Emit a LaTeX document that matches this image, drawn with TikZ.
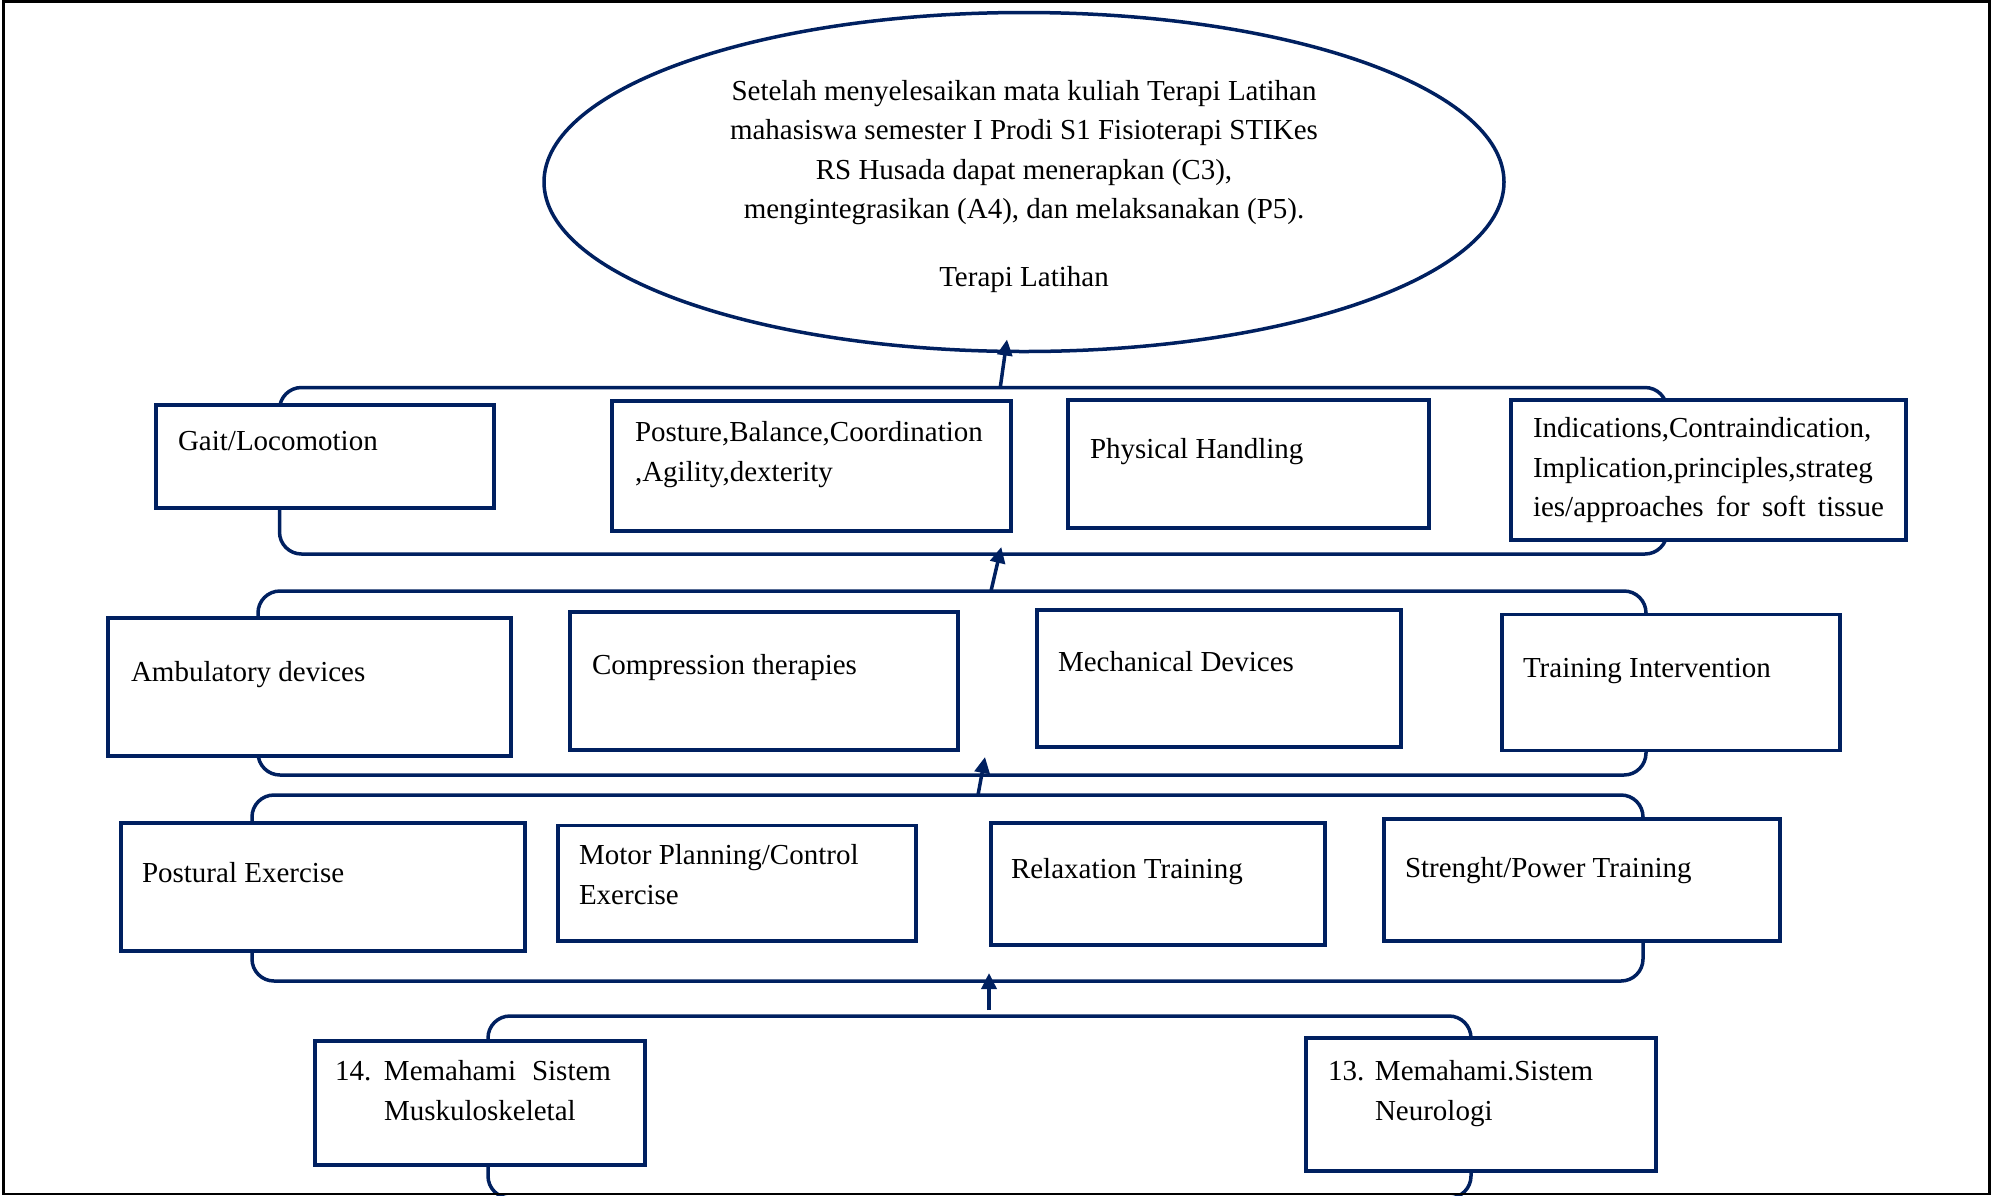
\documentclass[tikz,border=0pt]{standalone}
\usepackage{fontspec}
\setmainfont{Liberation Serif}
\usetikzlibrary{arrows.meta,shapes.geometric}
\definecolor{navy}{HTML}{002060}
\begin{document}
\begin{tikzpicture}[x=1pt,y=-1pt,
  box/.style={draw=navy, line width=3.5pt, fill=white, rectangle, inner sep=0pt, outer sep=0pt, anchor=north west},
  grp/.style={draw=navy, line width=3.5pt, rounded corners=22pt, rectangle, inner sep=0pt, outer sep=0pt},
  txt/.style={inner sep=0pt, outer sep=0pt, anchor=north west, align=left, font=\fontsize{29}{39.4}\selectfont},
  arr/.style={draw=navy, line width=3.5pt, -{Triangle[length=16pt,width=15pt]}}]
\useasboundingbox (0,0) rectangle (1992,1195);
\clip (0,0) rectangle (1992,1195);
% group brackets
\node[grp, minimum width=1387.5pt, minimum height=166.5pt] (b1) at (973.25,470.75) {};
\node[grp, minimum width=1388pt, minimum height=184pt] (b2) at (952,683) {};
\node[grp, minimum width=1391pt, minimum height=186pt] (b3) at (947.5,888) {};
\node[grp, minimum width=983pt, minimum height=182pt] (b4) at (979.5,1107) {};
% goal ellipse
\node[draw=navy, line width=3.5pt, ellipse, minimum width=960pt, minimum height=339pt, inner sep=0pt, outer sep=0pt] (goal) at (1024,182) {};
\node[txt, anchor=north, align=center] (goaltext) at (1024,72.9) {\strut Setelah menyelesaikan mata kuliah Terapi Latihan\\
mahasiswa semester I Prodi S1 Fisioterapi STIKes\\
RS Husada dapat menerapkan (C3),\\
mengintegrasikan (A4), dan melaksanakan (P5).\\[28pt]
Terapi Latihan};
% row 1
\node[box, minimum width=338pt, minimum height=103pt] (g1) at (156,405) {};
\node[box, minimum width=399pt, minimum height=130pt] (g2) at (612,401) {};
\node[box, minimum width=361pt, minimum height=128pt] (g3) at (1068,400) {};
\node[box, minimum width=395pt, minimum height=140pt] (g4) at (1511,400) {};
\node[txt] (g1t) at (178,423.4) {\strut Gait/Locomotion};
\node[txt] (g2t) at (635,414.4) {\strut Posture,Balance,Coordination\\,Agility,dexterity};
\node[txt] (g3t) at (1090,431.4) {\strut Physical Handling};
\node[txt] (g4t) at (1533,410.4) {\strut Indications,Contraindication,\\Implication,principles,strateg\\\makebox[351pt][s]{ies/approaches for soft tissue}};
% row 2
\node[box, minimum width=403pt, minimum height=138pt] (a1) at (108,618) {};
\node[box, minimum width=388pt, minimum height=138pt] (a2) at (570,612) {};
\node[box, minimum width=364pt, minimum height=137pt] (a3) at (1037,610) {};
\node[box, minimum width=338pt, minimum height=136pt] (a4) at (1502,614.5) {};
\node[txt] (a1t) at (131,654.4) {\strut Ambulatory devices};
\node[txt] (a2t) at (592,647.4) {\strut Compression therapies};
\node[txt] (a3t) at (1058,644.4) {\strut Mechanical Devices};
\node[txt] (a4t) at (1523,650.4) {\strut Training Intervention};
% row 3
\node[box, minimum width=404pt, minimum height=128pt] (p1) at (121,823) {};
\node[box, minimum width=358pt, minimum height=115.5pt] (p2) at (558,825.5) {};
\node[box, minimum width=334pt, minimum height=122pt] (p3) at (991,823) {};
\node[box, minimum width=396pt, minimum height=122pt] (p4) at (1384,819) {};
\node[txt] (p1t) at (142,855.4) {\strut Postural Exercise};
\node[txt] (p2t) at (579,837.4) {\strut Motor Planning/Control\\Exercise};
\node[txt] (p3t) at (1011,851.4) {\strut Relaxation Training};
\node[txt] (p4t) at (1405,850.4) {\strut Strenght/Power Training};
% row 4
\node[box, minimum width=330pt, minimum height=124pt] (m1) at (315,1041) {};
\node[box, minimum width=350pt, minimum height=133pt] (m2) at (1306,1038) {};
\node[txt] (m1t) at (335,1053.4) {\strut\makebox[49pt][l]{14.}\makebox[227pt][s]{Memahami Sistem}\\\hspace*{49pt}Muskuloskeletal};
\node[txt] (m2t) at (1328,1053.4) {\strut\makebox[47pt][l]{13.}Memahami.Sistem\\\hspace*{47pt}Neurologi};
% arrows
\draw[arr] ([xshift=27pt]b1.north) -- ([xshift=-17pt,yshift=12pt]goal.south);
\draw[arr] ([xshift=39pt]b2.north) -- ([xshift=28pt,yshift=7pt]b1.south);
\draw[arr] ([xshift=30.5pt]b3.north) -- ([xshift=33pt,yshift=18pt]b2.south);
\draw[arr] ([xshift=9.5pt,yshift=6pt]b4.north) -- ([xshift=41.5pt,yshift=8pt]b3.south);
% outer frame
\draw[black, line width=2.5pt] (3.7,1.5) rectangle (1989.5,1194);
\end{tikzpicture}
\end{document}
